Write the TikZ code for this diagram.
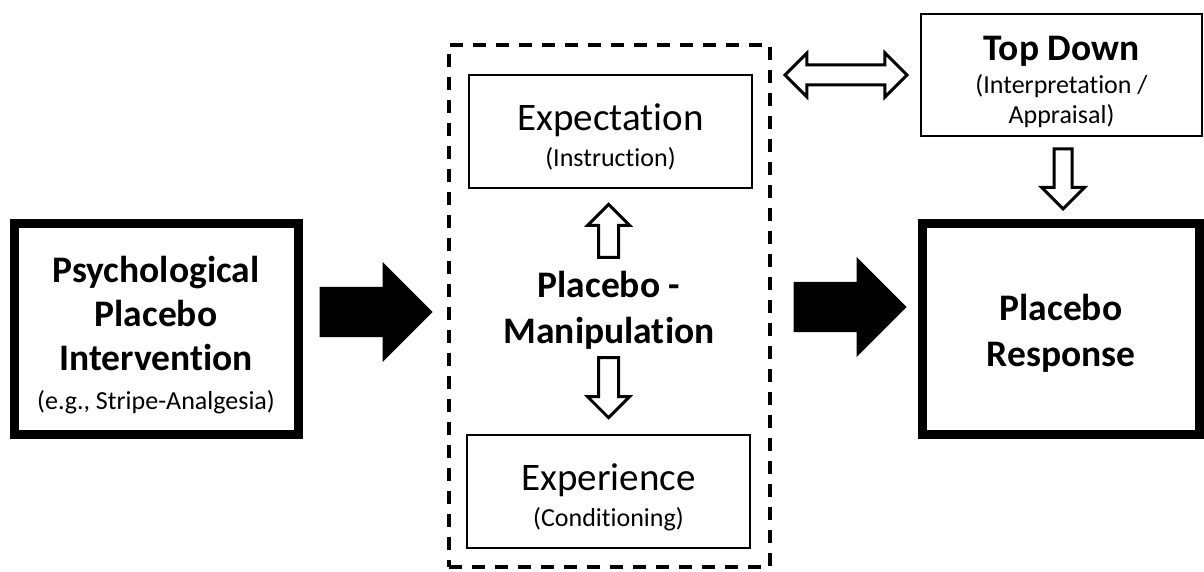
\documentclass[tikz,border=0pt]{standalone}
\usepackage{fontspec}
\setmainfont{Carlito}[Ligatures=NoCommon]
\usetikzlibrary{shapes.arrows,calc}

\newcommand{\bigtxt}{\fontsize{37.5}{44}\selectfont}
\newcommand{\midtxt}{\fontsize{39}{40}\selectfont}
\newcommand{\smalltxt}{\fontsize{26}{30}\selectfont}

\begin{document}
\begin{tikzpicture}[x=1pt, y=-1pt,
    heavybox/.style={draw, line width=9pt, minimum width=284pt, minimum height=211pt,
        align=center, inner sep=0pt},
    thinbox/.style={draw, line width=2.5pt, minimum width=283pt, minimum height=113pt,
        align=center, inner sep=0pt},
    blockarrow/.style={single arrow, fill=black, inner xsep=0pt, inner ysep=25pt,
        minimum height=113pt, single arrow head extend=25pt, anchor=tip},
    hollowarrow/.style={single arrow, draw, fill=white, line width=3pt, inner ysep=0pt,
        inner xsep=8.5pt, single arrow head extend=11pt, anchor=tip},
]
    \useasboundingbox (0,0) rectangle (1204,572);

    % Outer boxes
    \node[heavybox, font=\bfseries\bigtxt, text height=166pt] (psych) at (156,329)
        {Psychological\\Placebo\\Intervention\\[-5pt]{\mdseries\smalltxt (e.g., Stripe-Analgesia)}};
    \node[heavybox, minimum width=277pt, font=\bfseries\bigtxt, text height=80pt] (resp) at (1061,329)
        {Placebo\\[2pt]Response};
    \node[thinbox, minimum width=281pt, minimum height=122pt, font=\smalltxt, text height=102pt]
        (topdown) at (1061.5,75)
        {{\bfseries\bigtxt Top Down}\\[3pt](Interpretation /\\Appraisal)};

    % Manipulation frame
    \node[draw, line width=4pt, dash pattern=on 13pt off 10pt, minimum width=321pt,
        minimum height=522pt, inner sep=0pt] (frame) at (609.5,306) {};
    \node[thinbox, font=\smalltxt, text height=73pt] (expect) at (610.5,131.5)
        {{\midtxt Expectation}\\[6pt](Instruction)};
    \node[thinbox, font=\smalltxt, text height=75pt] (exper) at (608.5,491.5)
        {{\midtxt Experience}\\[6pt](Conditioning)};
    \node[font=\bfseries\bigtxt, align=center] (manip) at (609,310)
        {Placebo -\\[2pt]Manipulation};

    % Big arrows
    \node[blockarrow] (arrin) at ([xshift=-14pt, yshift=-6pt]frame.west) {};
    \node[blockarrow] (arrout) at ([xshift=-11pt, yshift=22pt]resp.west) {};

    % Hollow arrows
    \node[hollowarrow, shape border rotate=90, minimum height=53pt]
        (arrup) at ([xshift=-2pt, yshift=-13pt]expect.south) {};
    \node[hollowarrow, shape border rotate=270, minimum height=60pt]
        (arrdown) at ([yshift=14pt]exper.north) {};
    \node[hollowarrow, shape border rotate=270, minimum height=60pt, inner xsep=7.5pt,
        single arrow head extend=12.5pt] (arrtop) at ([xshift=2pt, yshift=8pt]resp.north) {};
    \node[double arrow, draw, fill=white, line width=3pt, inner xsep=0pt, inner ysep=8.5pt,
        minimum height=122pt, double arrow head extend=12pt] (arrboth)
        at ($(frame.east |- topdown.west)!0.5!(topdown.west)$) {};
\end{tikzpicture}
\end{document}
